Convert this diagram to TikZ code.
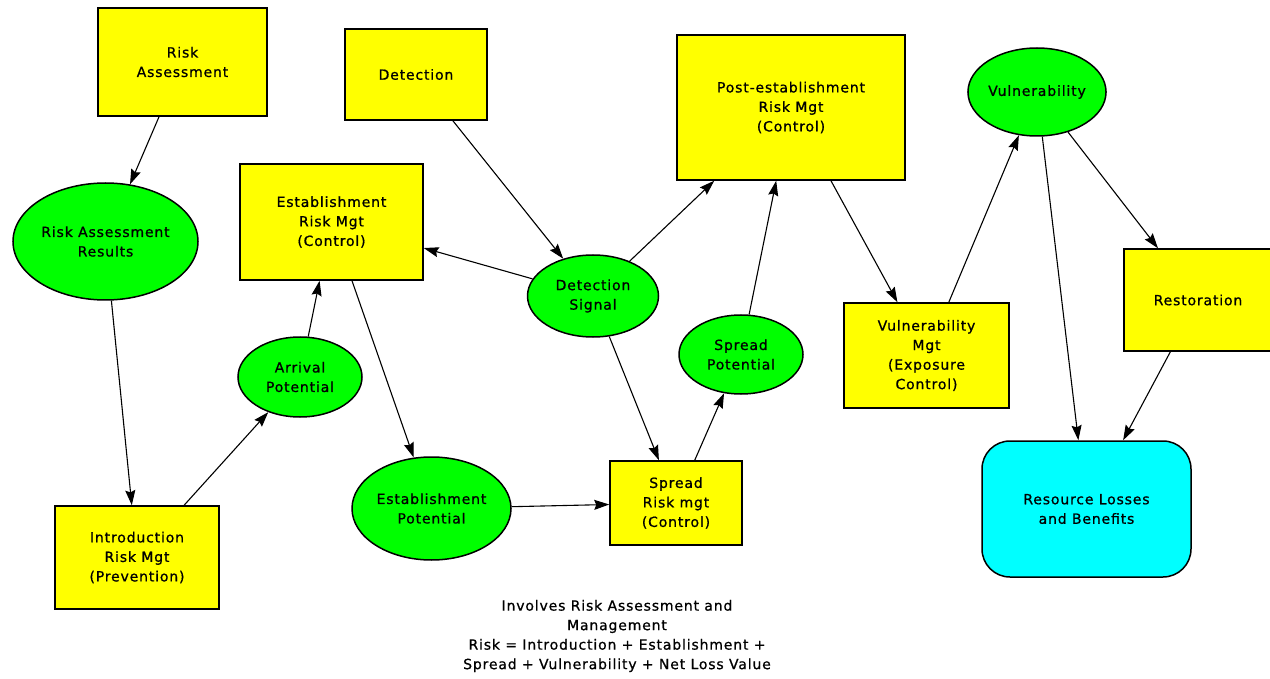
\documentclass[tikz,border=0pt]{standalone}
\usepackage{fontspec}
\setmainfont{DejaVu Sans}[LetterSpace=6,FakeBold=0.8]
\usetikzlibrary{shapes.geometric,arrows.meta}
\definecolor{boxyellow}{RGB}{255,255,0}
\definecolor{ovalgreen}{RGB}{0,255,0}
\definecolor{rescyan}{RGB}{0,255,255}
\begin{document}
\begin{tikzpicture}[x=1pt,y=-1pt,
  every node/.style={font=\fontsize{14}{19.5}\selectfont,align=center,inner sep=0pt},
  box/.style={draw=black,line width=1.5pt,fill=boxyellow},
  oval/.style={ellipse,draw=black,line width=1.5pt,fill=ovalgreen},
  rbox/.style={draw=black,line width=1.5pt,fill=rescyan,rounded corners=28pt},
  arr/.style={-{Stealth[length=15pt,width=10pt,inset=2pt]},line width=1.1pt}]
\useasboundingbox (0,0) rectangle (1270,679);
\node[box,minimum width=169pt,minimum height=108pt] (ra) at (182.5,62) {Risk\\Assessment};
\node[box,minimum width=142pt,minimum height=91pt] (det) at (416,74.5) {Detection};
\node[box,minimum width=228pt,minimum height=145pt] (pe) at (791,107.5) {Post-establishment\\Risk Mgt\\(Control)};
\node[oval,minimum width=138pt,minimum height=88pt] (vul) at (1037,92) {Vulnerability};
\node[oval,minimum width=185pt,minimum height=117pt] (rar) at (105.5,241.5) {Risk Assessment\\Results};
\node[box,minimum width=183pt,minimum height=116pt] (erm) at (331.5,222) {Establishment\\Risk Mgt\\(Control)};
\node[oval,minimum width=131pt,minimum height=82pt] (ds) at (593,296) {Detection\\Signal};
\node[oval,minimum width=124pt,minimum height=79pt] (sp) at (741,354.5) {Spread\\Potential};
\node[box,minimum width=165pt,minimum height=105pt] (vm) at (926.5,355.5) {Vulnerability\\Mgt\\(Exposure\\Control)};
\node[box,minimum width=148pt,minimum height=102pt] (rest) at (1198,300) {Restoration};
\node[rbox,minimum width=209pt,minimum height=136pt] (res) at (1086.5,509) {Resource Losses\\and Benefits};
\node[oval,minimum width=124pt,minimum height=80pt] (ap) at (300,377) {Arrival\\Potential};
\node[box,minimum width=164pt,minimum height=103pt] (intro) at (137,557.5) {Introduction\\Risk Mgt\\(Prevention)};
\node[oval,minimum width=159pt,minimum height=103pt] (ep) at (431.5,508.5) {Establishment\\Potential};
\node[box,minimum width=132pt,minimum height=84pt] (sr) at (676,503) {Spread\\Risk mgt\\(Control)};
\node (note) at (617,636) {Involves Risk Assessment and\\Management\\Risk = Introduction + Establishment +\\Spread + Vulnerability + Net Loss Value};
\draw[arr] (ra) -- (rar);
\draw[arr] (rar) -- (intro);
\draw[arr] (intro) -- (ap);
\draw[arr] (ap) -- (erm);
\draw[arr] (erm) -- (ep);
\draw[arr] (ep) -- (sr);
\draw[arr] (det) -- (ds);
\draw[arr] (ds) -- (erm);
\draw[arr] (ds) -- (pe);
\draw[arr] (ds) -- (sr);
\draw[arr] (sr) -- (sp);
\draw[arr] (sp) -- (pe);
\draw[arr] (pe) -- (vm);
\draw[arr] (vm) -- (vul);
\draw[arr] (vul) -- (res);
\draw[arr] (vul) -- (rest);
\draw[arr] (rest) -- (res);
\end{tikzpicture}
\end{document}
